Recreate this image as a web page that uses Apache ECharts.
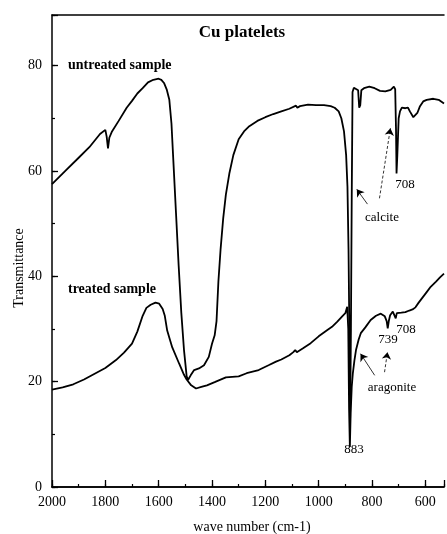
<!DOCTYPE html>
<html><head><meta charset="utf-8">
<script src="https://cdn.jsdelivr.net/npm/echarts/dist/echarts.min.js"></script>
<style>html,body{margin:0;padding:0;background:#fff}#c{width:447px;height:534px}</style>
</head><body><div id="c"></div>
<script>
// wave number (cm-1), transmittance
const untreatedData = [
[2000,57.5],[1950,60],[1900,62.5],[1860,64.5],[1820,67],[1800,67.8],[1795,66.5],[1790,64.3],[1785,66.3],[1775,67.5],
[1750,69.5],[1720,72],[1700,73.3],[1680,74.7],[1660,75.7],[1640,76.8],[1620,77.3],[1600,77.5],[1590,77.3],[1580,76.7],
[1570,75.5],[1560,73.5],[1552,69],[1545,62],[1535,52],[1525,42],[1515,33],[1505,26],[1495,21],[1490,20.3],
[1480,21.2],[1467,22.2],[1449,22.5],[1430,23.1],[1412,24.7],[1400,27.2],[1390,28.8],[1383,31.5],[1376,39],[1368,45],
[1358,51],[1348,55.5],[1335,59.5],[1320,63],[1300,66],[1280,67.5],[1260,68.5],[1230,69.5],[1200,70.2],[1170,70.8],
[1140,71.3],[1110,71.8],[1085,72.4],[1080,72],[1070,72.3],[1040,72.6],[1010,72.5],[980,72.5],[955,72.3],[940,72],
[925,71.3],[915,70],[905,67.5],[897,63],[892,57],[888,45],[885,30],[882,13],[879,30],[876,55],
[873,75],[868,75.8],[862,75.8],[852,75.3],[848,72],[844,72.5],[840,75.3],[830,75.7],[810,76],[790,75.7],
[770,75.2],[750,75.1],[730,75.4],[718,76],[713,75.5],[710,68],[708,59.5],[705,63],[700,70],[695,71.3],
[688,72],[675,71.9],[665,72],[658,71.3],[645,70.2],[640,70.2],[630,71],[620,72.3],[608,73.2],[595,73.5],
[570,73.7],[550,73.5],[530,72.8]
];
const treatedData = [
[2000,18.5],[1960,18.9],[1920,19.5],[1880,20.4],[1840,21.5],[1800,22.6],[1760,24.1],[1730,25.5],[1700,27.2],[1680,29.5],
[1660,32.5],[1646,34],[1630,34.6],[1612,35],[1598,34.8],[1585,33.8],[1577,32.5],[1568,29.7],[1558,28],[1549,26.5],
[1523,23.4],[1505,21.3],[1495,20.4],[1478,19.3],[1460,18.7],[1440,19],[1419,19.3],[1390,19.9],[1348,20.8],[1300,21],
[1270,21.6],[1225,22.2],[1188,23.1],[1160,23.8],[1140,24.2],[1110,25],[1095,25.6],[1088,26],[1082,25.6],
[1060,26.3],[1030,27.3],[1000,28.6],[970,29.7],[950,30.4],[930,31.4],[910,32.5],[900,33],[893,34.2],[889,30],
[886,15],[883,7.6],[880,14],[876,19],[872,21.5],[866,24],[860,26],[850,28],[842,29.2],[825,30.3],
[805,31.7],[785,32.5],[767,32.9],[752,32.4],[745,31.5],[741,30.1],[737,31.5],[732,32.6],[722,33.3],[715,33],
[711,32],[707,33],[700,33.3],[690,33.1],[675,33.2],[660,33.5],[648,33.7],[637,34.1],[625,35],[610,36],
[595,37],[580,38],[560,39],[545,39.8],[530,40.5]
];
// annotation arrows: [fromWave, fromT, toWave, toT, dashed]
const arrows = [
[817,53.7,857,56.5,false],
[772,54.8,731,68.1,true],
[790,21.2,843,25.3,false],
[753,21.8,742,25.6,true]
];
const xTicks = [2000,1800,1600,1400,1200,1000,800,600];
const yTicks = [0,20,40,60,80];

const FONT = '"Liberation Serif","Times New Roman",serif';
const neg = d => d.map(p => [-p[0], p[1]]);
const chart = echarts.init(document.getElementById('c'), null, {renderer:'canvas'});
const axisBase = {min:-2000, max:-530, axisLine:{show:true, lineStyle:{color:'#000', width:1.5}}, splitLine:{show:false}};
chart.setOption({
  animation:false,
  backgroundColor:'#fff',
  grid:{left:52, right:0, top:15, bottom:47},
  xAxis:[
    Object.assign({}, axisBase, {type:'value', position:'bottom', interval:200,
      axisTick:{show:true, inside:true, length:7, lineStyle:{color:'#000', width:1.3}},
      axisLabel:{show:true, margin:8, color:'#000', fontFamily:FONT, fontSize:14,
        formatter:v => xTicks.indexOf(-v) >= 0 ? String(-v) : ''}}),
    Object.assign({}, axisBase, {type:'value', position:'bottom', interval:100,
      axisTick:{show:true, inside:true, length:3, lineStyle:{color:'#000', width:1.2}},
      axisLabel:{show:false}}),
    Object.assign({}, axisBase, {type:'value', position:'top', interval:200,
      axisTick:{show:false}, axisLabel:{show:false}})
  ],
  yAxis:[
    {type:'value', min:0, max:89.6, interval:20, position:'left',
      axisLine:{show:true, lineStyle:{color:'#000', width:1.5}}, splitLine:{show:false},
      axisTick:{show:true, inside:true, length:6, lineStyle:{color:'#000', width:1.3}},
      axisLabel:{show:true, margin:10, color:'#000', fontFamily:FONT, fontSize:14,
        formatter:v => yTicks.indexOf(v) >= 0 ? String(v) : ''}},
    {type:'value', min:0, max:89.6, interval:10, position:'left',
      axisLine:{show:false}, splitLine:{show:false},
      axisTick:{show:true, inside:true, length:3, lineStyle:{color:'#000', width:1.2}},
      axisLabel:{show:false}}
  ],
  series:[
    {type:'line', name:'untreated sample', data:neg(untreatedData), showSymbol:false, symbol:'none',
      lineStyle:{color:'#000', width:1.8}, silent:true,
      markLine:{silent:true, symbol:['none','arrow'], symbolSize:7, label:{show:false},
        data: arrows.map(a => [
          {coord:[-a[0], a[1]], lineStyle:{color:'#000', width:0.8, type: a[4] ? [3,2] : 'solid'}},
          {coord:[-a[2], a[3]]}
        ])}},
    {type:'line', name:'treated sample', data:neg(treatedData), showSymbol:false, symbol:'none',
      lineStyle:{color:'#000', width:1.8}, silent:true}
  ],
  graphic:[
    {type:'text', x:242, y:33, style:{text:'Cu platelets', font:'bold 17px '+FONT, fill:'#000', align:'center', verticalAlign:'middle', textAlign:'center', textVerticalAlign:'middle'}},
    {type:'text', x:68, y:65, style:{text:'untreated sample', font:'bold 14px '+FONT, fill:'#000', align:'left', verticalAlign:'middle', textAlign:'left', textVerticalAlign:'middle'}},
    {type:'text', x:68, y:289, style:{text:'treated sample', font:'bold 14px '+FONT, fill:'#000', align:'left', verticalAlign:'middle', textAlign:'left', textVerticalAlign:'middle'}},
    {type:'text', x:19, y:268, rotation:Math.PI/2, style:{text:'Transmittance', font:'14px '+FONT, fill:'#000', align:'center', verticalAlign:'middle', textAlign:'center', textVerticalAlign:'middle'}},
    {type:'text', x:252, y:527, style:{text:'wave number (cm-1)', font:'14px '+FONT, fill:'#000', align:'center', verticalAlign:'middle', textAlign:'center', textVerticalAlign:'middle'}},
    {type:'text', x:382, y:218, style:{text:'calcite', font:'13px '+FONT, fill:'#000', align:'center', verticalAlign:'middle', textAlign:'center', textVerticalAlign:'middle'}},
    {type:'text', x:405, y:185, style:{text:'708', font:'13px '+FONT, fill:'#000', align:'center', verticalAlign:'middle', textAlign:'center', textVerticalAlign:'middle'}},
    {type:'text', x:406, y:330, style:{text:'708', font:'13px '+FONT, fill:'#000', align:'center', verticalAlign:'middle', textAlign:'center', textVerticalAlign:'middle'}},
    {type:'text', x:388, y:340, style:{text:'739', font:'13px '+FONT, fill:'#000', align:'center', verticalAlign:'middle', textAlign:'center', textVerticalAlign:'middle'}},
    {type:'text', x:392, y:388, style:{text:'aragonite', font:'13px '+FONT, fill:'#000', align:'center', verticalAlign:'middle', textAlign:'center', textVerticalAlign:'middle'}},
    {type:'text', x:354, y:450, style:{text:'883', font:'13px '+FONT, fill:'#000', align:'center', verticalAlign:'middle', textAlign:'center', textVerticalAlign:'middle'}}
  ]
});
</script>
</body></html>
